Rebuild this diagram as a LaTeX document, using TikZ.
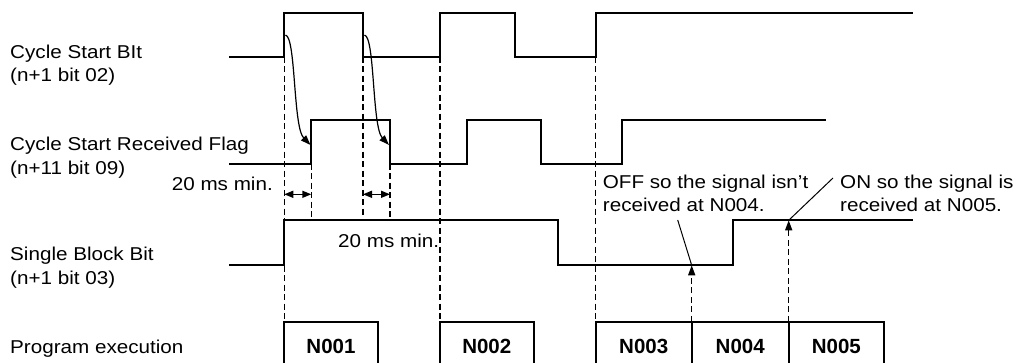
\documentclass[tikz,border=0pt]{standalone}
\usepackage{fontspec}
\setmainfont[FakeStretch=1.11]{Liberation Sans}
\newfontfamily\boxfont{Liberation Sans}
\usetikzlibrary{arrows.meta}
\begin{document}
\begin{tikzpicture}[x=1pt,y=-1pt,
  sig/.style={line width=2pt, line join=miter},
  guide/.style={line width=1.4pt, dash pattern=on 6pt off 3.5pt},
  thin/.style={line width=1pt},
  curvearrow/.style={line width=1.2pt, -{Triangle[length=10pt,width=7pt]}},
  uparrow/.style={line width=1.4pt, dash pattern=on 6pt off 3.5pt, -{Triangle[length=10pt,width=7pt]}},
  spanarrow/.style={line width=1.4pt, {Triangle[length=9pt,width=7pt]}-{Triangle[length=9pt,width=7pt]}},
  boxline/.style={line width=1.8pt, line join=miter},
  lbl/.style={anchor=base west, inner sep=0pt, font=\fontsize{18.6}{22}\selectfont},
  lble/.style={anchor=base east, inner sep=0pt, font=\fontsize{18.6}{22}\selectfont},
  nlbl/.style={anchor=base, inner sep=0pt, font=\boxfont\bfseries\fontsize{20.5}{24}\selectfont}]
\useasboundingbox (0,0) rectangle (1021,362);

% left labels
\node[lbl] (csa) at (10,58.3) {Cycle Start BIt};
\node[lbl] (csb) at (10,81.7) {(n+1 bit 02)};
\node[lbl] (cra) at (10,150.7) {Cycle Start Received Flag};
\node[lbl] (crb) at (10,174) {(n+11 bit 09)};
\node[lbl] (sba) at (10,260) {Single Block Bit};
\node[lbl] (sbb) at (10,284) {(n+1 bit 03)};
\node[lbl] (pe) at (10,353) {Program execution};

% key coordinates
\coordinate (r1) at (284.3,56.7);
\coordinate (f1) at (363,56.7);
\coordinate (r2) at (440,56.7);
\coordinate (r3) at (595.7,56.7);
\coordinate (g1) at (311.3,163.7);
\coordinate (g2) at (390,163.7);

% dashed guides
\draw[guide] (r1) -- (284.3,321.7);
\draw[guide] (f1) -- (363,217);
\draw[guide] (g1) -- (311.3,217);
\draw[guide] (g2) -- (390,217);
\draw[guide] (r2) -- (440,321.7);
\draw[guide] (r3) -- (595.7,321.7);

% signals
\draw[sig] (229,56.7) -- (r1) -- (284.3,13) -- (363,13) -- (f1) -- (r2)
  -- (440,13) -- (514.7,13) -- (514.7,56.7) -- (r3) -- (595.7,13) -- (912.7,13);
\draw[sig] (229,163.7) -- (g1) -- (311.3,119.7) -- (390,119.7) -- (g2)
  -- (466.7,163.7) -- (466.7,119.7) -- (541,119.7) -- (541,163.7)
  -- (622.3,163.7) -- (622.3,119.7) -- (825.7,119.7);
\draw[sig] (229,265.3) -- (284.3,265.3) -- (284.3,220.3) -- (557.7,220.3)
  -- (557.7,265.3) -- (732.7,265.3) -- (732.7,220.3) -- (912.7,220.3);

% curved arrows
\coordinate (c1s) at (285.5,35);
\coordinate (c1e) at (310.5,145);
\coordinate (c2s) at (364.5,35);
\coordinate (c2e) at (389,145);
\draw[curvearrow] (c1s) .. controls (296,37) and (293,127) .. (c1e);
\draw[curvearrow] (c2s) .. controls (375,37) and (372,127) .. (c2e);

% 20 ms min spans
\coordinate (s1a) at (284.3,194.3);
\coordinate (s1b) at (311.3,194.3);
\coordinate (s2a) at (363,194.3);
\coordinate (s2b) at (390,194.3);
\draw[spanarrow] (s1a) -- (s1b);
\draw[spanarrow] (s2a) -- (s2b);
\node[lble] (t20a) at (273,190.7) {20 ms min.};
\node[lbl] (t20b) at (338,247) {20 ms min.};

% program execution boxes (open at the bottom edge)
\draw[boxline] (284.3,364) -- (284.3,321.7) -- (377.7,321.7) -- (377.7,364);
\draw[boxline] (440,364) -- (440,321.7) -- (533.7,321.7) -- (533.7,364);
\draw[boxline] (595.7,364) -- (595.7,321.7) -- (884,321.7) -- (884,364);
\coordinate (d1) at (691.7,321.7);
\coordinate (d2) at (788.7,321.7);
\draw[boxline] (d1) -- (691.7,364);
\draw[boxline] (d2) -- (788.7,364);
\node[nlbl] (n1) at (331,353) {N001};
\node[nlbl] (n2) at (486.8,353) {N002};
\node[nlbl] (n3) at (643.7,353) {N003};
\node[nlbl] (n4) at (740.2,353) {N004};
\node[nlbl] (n5) at (836.4,353) {N005};

% sampling arrows
\coordinate (p1) at (691.7,265.3);
\coordinate (p2) at (788.7,220.3);
\draw[uparrow] (d1) -- (p1);
\draw[uparrow] (d2) -- (p2);

% annotations
\node[lbl] (offa) at (602.7,188.3) {OFF so the signal isn’t};
\node[lbl] (offb) at (602.7,211) {received at N004.};
\node[lbl] (ona) at (840,188.3) {ON so the signal is};
\node[lbl] (onb) at (840,211) {received at N005.};
\coordinate (o1) at (677.7,220);
\coordinate (o2) at (833,178);
\draw[thin] (o1) -- (p1);
\draw[thin] (o2) -- (p2);
\end{tikzpicture}
\end{document}
